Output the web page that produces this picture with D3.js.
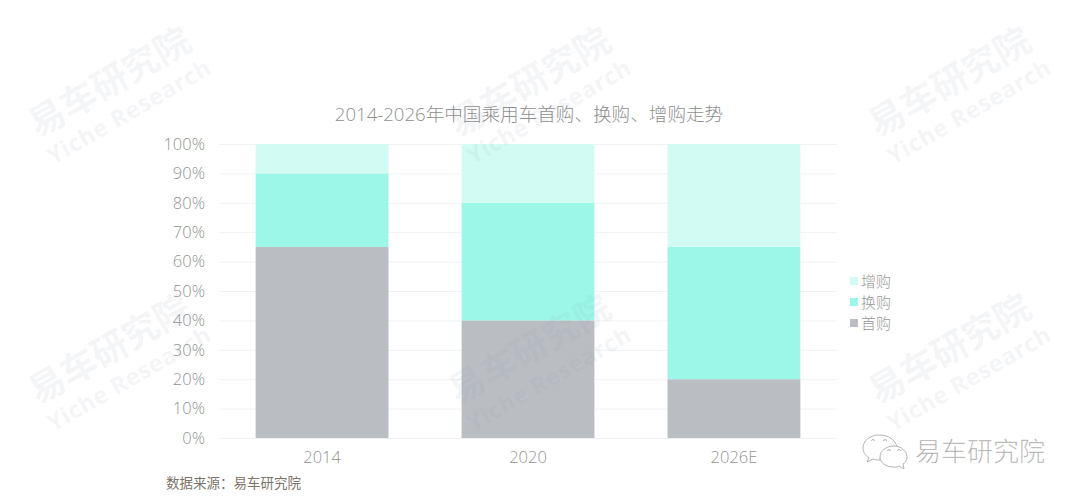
<!DOCTYPE html>
<html><head><meta charset="utf-8">
<script src="https://cdnjs.cloudflare.com/ajax/libs/d3/7.8.5/d3.min.js"></script>
<style>html,body{margin:0;padding:0;background:#fff}svg{display:block}
text{font-family:"Open Sans","Noto Sans CJK SC",sans-serif}</style></head>
<body><svg id="c" width="1080" height="499"></svg>
<script>
const categories=["2014","2020","2026E"];
const firstBuy=[65,40,20];
const replaceBuy=[25,40,45];
const addBuy=[10,20,35];
const seriesNames=["首购","换购","增购"];
const seriesColors=["#babdc2","#9df7e8","#d2fbf3"];
const yTicks=[0,10,20,30,40,50,60,70,80,90,100];
const titleText="2014-2026年中国乘用车首购、换购、增购走势";
const sourceText="数据来源：易车研究院";
const brandText="易车研究院";
const wmCn="易车研究院",wmEn="Yiche Research";
const wmAnchors=[[116,93],[536,93],[956,93],[116,360],[536,360],[956,360]];

const svg=d3.select("#c");
const x=d3.scaleBand().domain(categories).range([219,837]).paddingInner(0.355).paddingOuter(0.178);
const y=d3.scaleLinear().domain([0,100]).range([438,144]);

const gy=svg.append("g").attr("transform","translate(219,0)")
 .call(d3.axisLeft(y).tickValues(yTicks).tickFormat(d=>d+"%").tickSize(-618).tickPadding(14));
gy.select(".domain").remove();
gy.selectAll("line").attr("stroke","#f1f2f3");
gy.selectAll("text").attr("fill","#949494").style("font-size","16.5px").style("font-weight",300);

const gx=svg.append("g").attr("transform","translate(0,438)")
 .call(d3.axisBottom(x).tickSize(0).tickPadding(13.5));
gx.select(".domain").remove();
gx.selectAll("text").attr("fill","#949494").style("font-size","16.5px").style("font-weight",300);

const rows=categories.map((c,i)=>({c,首购:firstBuy[i],换购:replaceBuy[i],增购:addBuy[i]}));
const stack=d3.stack().keys(seriesNames)(rows);
const color=d3.scaleOrdinal(seriesNames,seriesColors);
svg.append("g").selectAll("g").data(stack).join("g").attr("fill",d=>color(d.key))
 .selectAll("rect").data(d=>d).join("rect")
 .attr("x",d=>x(d.data.c)).attr("width",x.bandwidth())
 .attr("y",d=>y(d[1])).attr("height",d=>y(d[0])-y(d[1]));

svg.append("text").attr("x",529).attr("y",121).attr("text-anchor","middle")
 .attr("fill","#8f8f8f").style("font-size","18.6px").style("font-weight",300).text(titleText);

const lg=svg.append("g").selectAll("g").data(["增购","换购","首购"]).join("g")
 .attr("transform",(d,i)=>`translate(850,${281+i*21})`);
lg.append("rect").attr("x",0).attr("y",-4).attr("width",8).attr("height",8).attr("fill",d=>color(d));
lg.append("text").attr("x",11).attr("y",6).attr("fill","#999").style("font-size","15px").style("font-weight",300).text(d=>d);

svg.append("text").attr("x",166).attr("y",488).attr("fill","#7d7468").style("font-size","13.5px").text(sourceText);

const wm=svg.append("g").selectAll("g").data(wmAnchors).join("g")
 .attr("transform",d=>`translate(${d[0]},${d[1]}) rotate(-30)`)
 .attr("text-anchor","middle").attr("font-weight",700);
wm.append("text").attr("y",0).attr("fill","#8c9bb0").attr("fill-opacity",.1).style("font-size","36px").text(wmCn);
wm.append("text").attr("x",2).attr("y",31).attr("fill","#8c9bb0").attr("fill-opacity",.1).style("font-size","23.5px").attr("letter-spacing","0.6px").text(wmEn);

const b=svg.append("g").attr("fill","#fff").attr("stroke","#b4b4b4").attr("stroke-width",1);
b.append("path").attr("d","M879 435c-9 0-16 6-16 13 0 4 2 7 6 10l-2 4 6-3c2 1 5 1 7 1 0-8 8-13 17-13-2-8-9-12-18-12z");
b.append("path").attr("d","M894 446c-8 0-14 5-14 11s6 10 14 10c2 0 3 0 5-1l5 3-1-5c3-2 4-4 4-7 0-6-6-11-13-11z");
b.selectAll("path.eye").data([[873,441],[885,441],[889,451],[899,451]]).join("path").attr("class","eye").attr("fill","none")
 .attr("d",d=>`M${d[0]-1.5} ${d[1]}a1.5 1.5 0 0 1 3 0`);
svg.append("text").attr("x",915).attr("y",461).attr("fill","#a0a0a0").attr("stroke","#fff").attr("stroke-width",.3)
 .style("font-size","26px").style("font-weight","300").text(brandText);
</script></body></html>
